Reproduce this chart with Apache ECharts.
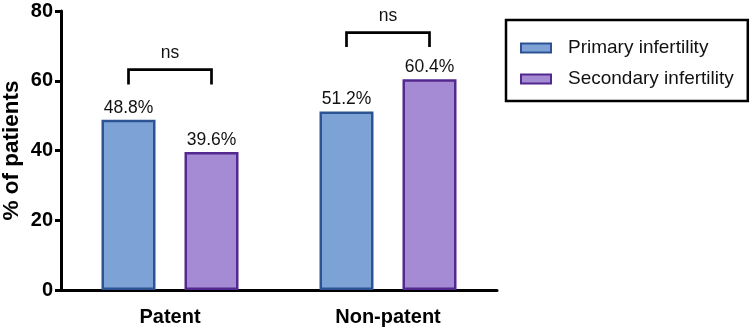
<!DOCTYPE html>
<html><head><meta charset="utf-8">
<script src="https://cdn.jsdelivr.net/npm/echarts@6/dist/echarts.min.js"></script>
<style>html,body{margin:0;padding:0;background:#fff}#c{width:753px;height:333px}</style>
</head><body><div id="c"></div>
<script>
var categories = ['Patent', 'Non-patent'];
var seriesNames = ['Primary infertility', 'Secondary infertility'];
var primaryValues = [48.8, 51.2];
var secondaryValues = [39.6, 60.4];
var yTicks = [0, 20, 40, 60, 80];
var sigLabels = ['ns', 'ns'];
var bracketTop = [63.2, 73.8];
var bracketBase = [58.9, 69.7];

var FONT = '"Liberation Sans", Arial, Helvetica, sans-serif';
var BAR_W = 54, BAR_GAP = 29;

var chart = echarts.init(document.getElementById('c'), null, {renderer: 'canvas'});
var bracketData = categories.map(function (c, i) { return [i, bracketTop[i], bracketBase[i], sigLabels[i]]; });

chart.setOption({
  animation: false,
  textStyle: {fontFamily: FONT},
  grid: {left: 61, top: 11, bottom: 43, width: 436, containLabel: false, outerBoundsMode: 'none'},
  legend: {
    orient: 'vertical', left: 506, top: 20,
    data: seriesNames,
    icon: 'rect', itemWidth: 30, itemHeight: 9, itemGap: 11,
    padding: [18, 14, 12, 14],
    borderColor: '#000', borderWidth: 2.5, borderRadius: 0,
    itemStyle: {borderWidth: 2},
    textStyle: {fontFamily: FONT, fontSize: 19, color: '#111', lineHeight: 20, padding: [0, 0, 0, 12]}
  },
  xAxis: {
    type: 'category', data: categories,
    axisLine: {lineStyle: {color: '#000', width: 3}},
    axisTick: {alignWithLabel: true, length: 6, lineStyle: {color: '#000', width: 3}},
    axisLabel: {fontFamily: FONT, fontSize: 20, fontWeight: 'bold', color: '#000', margin: 17}
  },
  yAxis: {
    type: 'value', min: yTicks[0], max: yTicks[yTicks.length - 1], interval: 20,
    name: '% of patients', nameLocation: 'middle', nameGap: 38, nameMoveOverlap: false,
    nameTextStyle: {fontFamily: FONT, fontSize: 22.5, fontWeight: 'bold', color: '#000'},
    axisLine: {show: true, lineStyle: {color: '#000', width: 3}},
    axisTick: {show: true, length: 6, lineStyle: {color: '#000', width: 3}},
    axisLabel: {fontFamily: FONT, fontSize: 20, fontWeight: 'bold', color: '#000', margin: 8},
    splitLine: {show: false}
  },
  series: [
    {
      name: seriesNames[0], type: 'bar', data: primaryValues,
      barWidth: BAR_W, barGap: (BAR_GAP / BAR_W * 100) + '%',
      itemStyle: {color: '#7da2d6', borderColor: '#2c5493', borderWidth: 2.5},
      label: {show: true, position: 'top', distance: 3, formatter: '{c}%', fontFamily: FONT, fontSize: 17.5, color: '#111'}
    },
    {
      name: seriesNames[1], type: 'bar', data: secondaryValues,
      barWidth: BAR_W,
      itemStyle: {color: '#a58bd4', borderColor: '#53288f', borderWidth: 2.5},
      label: {show: true, position: 'top', distance: 3, formatter: '{c}%', fontFamily: FONT, fontSize: 17.5, color: '#111'}
    },
    {
      type: 'custom', data: bracketData, z: 10, silent: true,
      encode: {x: 0, y: 1},
      renderItem: function (params, api) {
        var top = api.coord([api.value(0), api.value(1)]);
        var base = api.coord([api.value(0), api.value(2)]);
        var off = (BAR_W + BAR_GAP) / 2;
        var x1 = top[0] - off, x2 = top[0] + off;
        return {
          type: 'group',
          children: [
            {type: 'polyline', shape: {points: [[x1, base[1]], [x1, top[1]], [x2, top[1]], [x2, base[1]]]},
             style: {stroke: '#000', lineWidth: 2.7, fill: null}},
            {type: 'text', x: top[0], y: top[1] - 7,
             style: {text: sigLabels[params.dataIndex], fontFamily: FONT, fontSize: 17.5, fill: '#111', align: 'center', verticalAlign: 'bottom'}}
          ]
        };
      }
    }
  ]
});
</script></body></html>
